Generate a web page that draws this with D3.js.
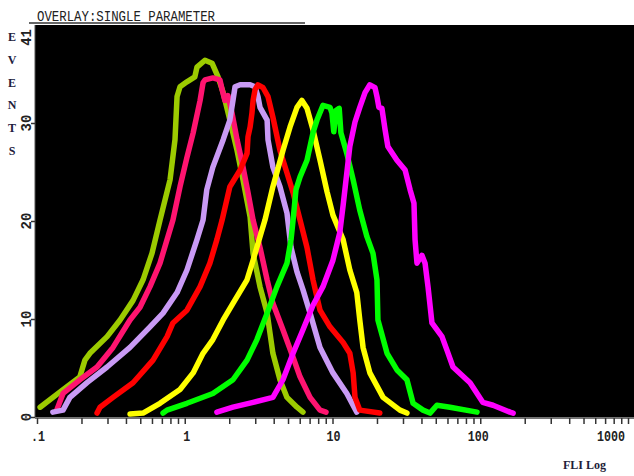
<!DOCTYPE html>
<html>
<head>
<meta charset="utf-8">
<script src="https://cdn.jsdelivr.net/npm/d3@7"></script>
<style>
  html, body { margin: 0; padding: 0; background: #fff; }
  svg { display: block; }
</style>
</head>
<body>
<svg id="chart" width="634" height="476"></svg>
<script>
// ---- Axis ticks ----
const xTickValues = [0.1, 1, 10, 100, 1000];
const xTickLabels = [".1", "1", "10", "100", "1000"];
const yTickValues = [0, 10, 20, 30];
const yTickLabels = ["0", "10", "20", "30"];
const yTopLabel = "41";

// ---- Histogram overlays: FL1 value (log axis) and event count ----
const oliveFL1 = [0.105,0.150,0.195,0.211,0.228,0.298,0.365,0.447,0.522,0.600,0.680,0.795,0.859,0.887,0.929,1.035,1.17,1.21,1.37,1.53,1.68,1.82,2.02,2.26,2.48,2.77,2.90,3.23,3.61,3.95,4.41,4.92,5.75,6.31];
const oliveEvents = [1.0,2.8,4.1,5.8,6.5,8.2,9.9,11.9,14.0,16.7,20.1,24.2,28.3,32.7,33.7,34.2,34.7,35.7,36.4,36.1,34.7,33.1,30.3,27.2,24.2,20.4,16.7,13.3,10.6,6.5,3.8,2.0,1.0,0.5];

const pinkFL1 = [0.136,0.150,0.195,0.255,0.327,0.426,0.498,0.582,0.680,0.759,0.832,0.929,1.035,1.14,1.27,1.33,1.37,1.55,1.73,1.79,1.87,1.96,2.09,2.26,2.48,2.68,2.90,3.23,3.61,3.95,4.62,5.41,6.03,7.05,8.23,9.04];
const pinkEvents = [0.7,2.4,3.8,5.1,7.1,9.9,11.2,13.3,15.7,18.1,20.1,23.5,26.5,29.0,32.3,34.1,34.4,34.6,34.4,33.4,32.3,32.8,31.0,28.3,25.5,22.9,20.1,17.3,14.0,11.6,8.9,6.1,4.1,2.0,0.7,0.5];

const lavenderFL1 = [0.128,0.150,0.167,0.218,0.298,0.426,0.582,0.713,0.887,1.035,1.21,1.33,1.41,1.55,1.82,2.02,2.12,2.19,2.37,2.77,2.99,3.13,3.23,3.61,3.66,3.95,4.41,4.92,5.24,5.75,6.31,7.05,8.23,10.07,12.5,14.6];
const lavenderEvents = [0.5,0.7,2.0,3.5,5.1,7.1,9.2,10.6,12.7,15.0,18.1,20.1,23.2,25.5,28.3,30.3,32.3,33.7,33.9,33.9,33.7,32.7,31.6,30.3,28.3,25.5,23.5,20.8,17.3,14.8,13.0,10.6,7.1,4.5,2.4,0.5];

const redFL1 = [0.255,0.267,0.327,0.447,0.610,0.759,0.832,1.035,1.27,1.48,1.65,1.79,2.02,2.37,2.64,2.68,2.77,2.85,2.90,2.99,3.13,3.39,3.66,3.95,4.41,4.92,5.41,6.03,6.72,7.38,8.23,9.62,11.8,13.1,13.8,14.2,15.3,20.9];
const redEvents = [0.4,1.0,2.0,3.5,5.8,8.2,9.6,10.9,13.3,15.7,18.1,20.1,23.5,25.2,26.9,28.6,29.6,31.0,32.3,33.4,33.9,33.6,32.7,30.6,27.2,24.9,22.9,20.1,17.3,14.0,10.9,9.2,7.6,6.5,4.5,2.0,0.7,0.4];

const yellowFL1 = [0.426,0.522,0.680,0.929,1.14,1.33,1.55,1.82,2.12,2.64,2.90,3.23,3.49,3.95,4.62,5.16,5.75,6.21,6.72,7.38,8.23,9.18,10.07,11.8,13.1,14.6,15.3,16.1,17.9,22.0,28.6,31.9];
const yellowEvents = [0.3,0.4,1.4,2.8,4.5,6.5,7.9,9.9,11.6,14.0,16.0,18.4,20.1,23.5,27.2,29.6,31.6,32.3,31.5,29.3,26.2,23.0,20.6,18.1,15.0,12.7,9.9,7.1,4.5,2.0,0.7,0.4];

const greenFL1 = [0.713,0.759,1.035,1.55,2.12,2.64,3.08,3.61,4.21,4.92,5.24,5.41,5.66,6.03,6.72,7.38,7.85,8.62,9.62,9.92,10.2,10.6,11.1,11.4,12.5,13.8,15.3,17.1,18.8,20.0,20.3,23.4,27.3,31.9,35.1,41.0,45.7,50.9,62.4,95.1];
const greenEvents = [0.4,0.7,1.4,2.4,3.8,5.8,7.9,10.6,13.3,15.7,18.1,20.1,23.2,24.5,26.2,29.0,30.3,31.8,31.6,31.0,29.1,31.3,31.5,29.0,26.9,24.2,21.1,18.4,16.7,14.0,9.9,6.5,4.8,3.8,1.4,0.7,0.4,1.2,1.0,0.5];

const magentaFL1 = [1.65,2.12,2.90,3.95,4.62,5.41,6.31,7.38,8.62,10.07,11.2,11.8,13.1,14.2,15.3,16.6,17.9,19.4,20.0,20.6,21.6,22.7,23.7,27.3,31.0,33.5,35.6,36.2,37.3,40.3,42.3,44.3,47.1,55.1,59.6,65.4,85.3,104,122,159,167];
const magentaEvents = [0.5,1.0,1.5,2.0,3.8,6.5,8.9,11.4,13.3,16.0,18.8,21.6,27.6,30.1,31.6,33.1,33.9,33.6,32.7,31.6,31.5,29.3,27.6,26.2,25.2,23.2,21.8,18.1,15.7,16.5,15.7,13.3,9.6,8.2,6.8,5.1,3.5,1.5,1.2,0.5,0.4];

// Overlay order and line colours (later ones are drawn on top)
const overlays = [
  { fl1: oliveFL1,    events: oliveEvents,    color: "#9ccb00" },
  { fl1: pinkFL1,     events: pinkEvents,     color: "#ff1470" },
  { fl1: lavenderFL1, events: lavenderEvents, color: "#c99af5" },
  { fl1: redFL1,      events: redEvents,      color: "#ff0000" },
  { fl1: yellowFL1,   events: yellowEvents,   color: "#ffff00" },
  { fl1: greenFL1,    events: greenEvents,    color: "#00ff00" },
  { fl1: magentaFL1,  events: magentaEvents,  color: "#ff00ff" }
];

// ---- Layout ----
const plot = { left: 35, right: 634, top: 25, bottom: 417 };
const svg = d3.select("#chart");

const x = d3.scaleLog().domain([0.1, 1000]).range([37, 628]);
const y = d3.scaleLinear().domain([0, 40]).range([plot.bottom, plot.top]);

// Title with underline
svg.append("text")
  .attr("x", 37).attr("y", 21)
  .attr("font-family", "'Liberation Mono', monospace")
  .attr("font-size", 14)
  .attr("textLength", 178)
  .attr("lengthAdjust", "spacingAndGlyphs")
  .attr("fill", "#222")
  .text("OVERLAY:SINGLE PARAMETER");
svg.append("line")
  .attr("x1", 29).attr("x2", 305).attr("y1", 23).attr("y2", 23)
  .attr("stroke", "#333").attr("stroke-width", 1.3);

// Black plotting field
svg.append("rect")
  .attr("x", plot.left).attr("y", plot.top)
  .attr("width", plot.right - plot.left)
  .attr("height", plot.bottom - plot.top)
  .attr("fill", "#000");

svg.append("defs").append("clipPath").attr("id", "field")
  .append("rect")
  .attr("x", plot.left).attr("y", plot.top)
  .attr("width", plot.right - plot.left)
  .attr("height", plot.bottom - plot.top);

// Histogram traces
const line = d3.line()
  .x(d => x(d[0]))
  .y(d => y(d[1]));

const traces = svg.append("g").attr("clip-path", "url(#field)");
overlays.forEach(s => {
  const pts = s.fl1.map((v, i) => [v, s.events[i]]);
  traces.append("path")
    .attr("d", line(pts))
    .attr("fill", "none")
    .attr("stroke", s.color)
    .attr("stroke-width", 5.5)
    .attr("stroke-linejoin", "round")
    .attr("stroke-linecap", "round");
});

// X axis: log ticks for every decade step
const minorTicks = [];
for (let e = -1; e < 3; e++) {
  for (let m = 1; m < 10; m++) minorTicks.push(m * Math.pow(10, e));
}
minorTicks.push(1000);

const xAxis = svg.append("g")
  .attr("transform", `translate(0,${plot.bottom + 1})`)
  .call(d3.axisBottom(x).tickValues(minorTicks).tickSize(6).tickFormat(""));
xAxis.select(".domain")
  .attr("d", `M${plot.left},0H${plot.right}`)
  .attr("stroke", "#444").attr("stroke-width", 1.5);
xAxis.selectAll(".tick line").attr("stroke", "#333").attr("stroke-width", 1.5);

const xLabelShift = [1, 2, 1, -2, -17];
svg.append("g").selectAll("text")
  .data(xTickValues)
  .join("text")
  .attr("x", (d, i) => x(d) + xLabelShift[i])
  .attr("y", 441)
  .attr("text-anchor", "middle")
  .attr("font-family", "'Liberation Mono', monospace")
  .attr("font-weight", "bold")
  .attr("font-size", 15)
  .attr("textLength", (d, i) => xTickLabels[i].length * 7)
  .attr("lengthAdjust", "spacingAndGlyphs")
  .attr("fill", "#222")
  .text((d, i) => xTickLabels[i]);

// X axis title
svg.append("text")
  .attr("x", 563).attr("y", 469)
  .attr("font-family", "'Liberation Serif', serif")
  .attr("font-weight", "bold")
  .attr("font-size", 12)
  .attr("fill", "#1e1e3a")
  .text("FLI Log");

// Y axis ticks and rotated labels
const yAxis = svg.append("g")
  .attr("transform", `translate(${plot.left},0)`)
  .call(d3.axisLeft(y).tickValues(yTickValues).tickSize(4).tickFormat(""));
yAxis.select(".domain")
  .attr("d", `M0,${plot.top}V${plot.bottom}`)
  .attr("stroke", "#555").attr("stroke-width", 1);
yAxis.selectAll(".tick line").attr("stroke", "#333").attr("stroke-width", 1.5);

const yLabels = svg.append("g")
  .attr("font-family", "'Liberation Mono', monospace")
  .attr("font-weight", "bold")
  .attr("font-size", 14)
  .attr("fill", "#222");
yLabels.selectAll("text.ytick")
  .data(yTickValues)
  .join("text")
  .attr("class", "ytick")
  .attr("transform", d => `translate(31,${y(d)}) rotate(-90)`)
  .attr("text-anchor", "middle")
  .text((d, i) => yTickLabels[i]);
yLabels.append("text")
  .attr("transform", `translate(31,${plot.top + 4}) rotate(-90)`)
  .attr("text-anchor", "end")
  .text(yTopLabel);

// Vertical "EVENTS" caption
const caption = "EVENTS".split("");
svg.append("g").selectAll("text")
  .data(caption)
  .join("text")
  .attr("x", 12)
  .attr("y", (d, i) => 41 + i * 22.8)
  .attr("text-anchor", "middle")
  .attr("font-family", "'Liberation Serif', serif")
  .attr("font-weight", "bold")
  .attr("font-size", 12)
  .attr("fill", "#20203c")
  .text(d => d);
</script>
</body>
</html>
